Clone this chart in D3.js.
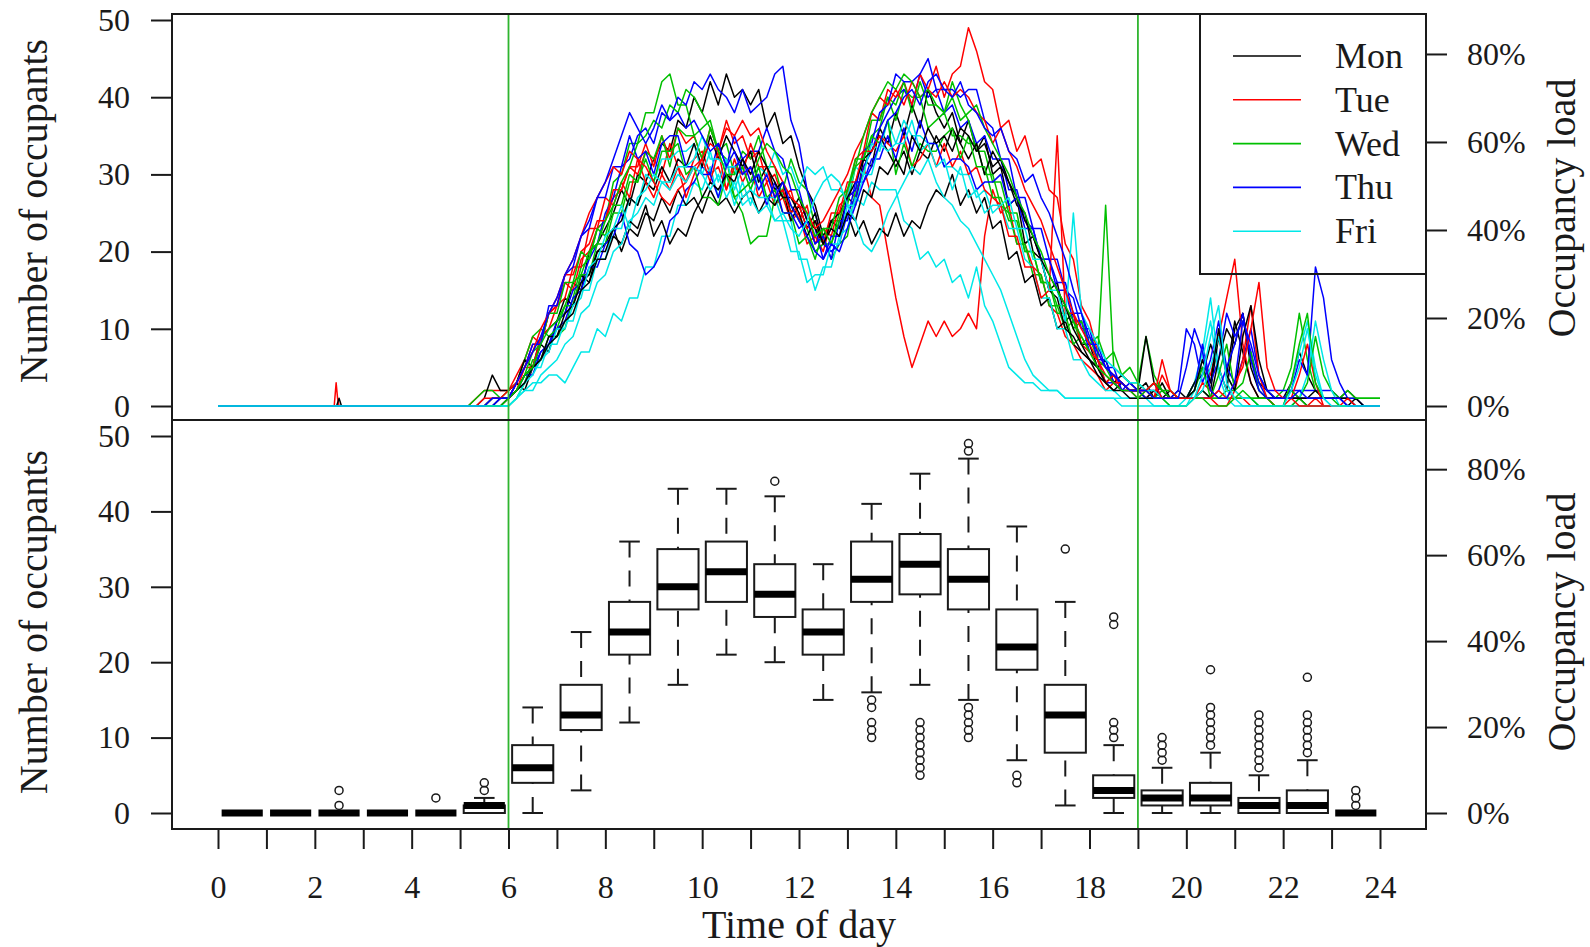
<!DOCTYPE html>
<html>
<head>
<meta charset="utf-8">
<script src="https://cdn.jsdelivr.net/npm/d3@7"></script>
<style>
  html, body { margin: 0; padding: 0; background: #ffffff; }
</style>
</head>
<body>
<svg id="chart" width="1590" height="947" font-family="'Liberation Serif', 'DejaVu Serif', serif"></svg>
<script>
// ---------------------------------------------------------------
// Occupancy traces: one value every 10 minutes from 05:00 to 24:00
// ---------------------------------------------------------------
const weekdays = ["Mon", "Tue", "Wed", "Thu", "Fri"];
const dayColors = ["#000000", "#ff0000", "#00c000", "#0000ff", "#00e8e8"];
const traceStartHour = 5;
const traceStepMinutes = 10;
const capacity = 57; // seats: 100 % occupancy load
const serif = "'Liberation Serif', 'DejaVu Serif', serif";

const mon1 = [
  0,0,0,0,1,1,  1,3,2,5,8,7,  11,12,16,15,20,21,  23,25,28,26,30,29,
  32,34,33,37,36,40,  38,42,39,43,40,41,  39,41,36,38,34,35,  31,28,26,22,24,23,
  27,26,32,31,36,34,  38,35,39,36,41,38,  36,38,34,37,33,35,  30,31,26,27,21,22,
  19,15,16,11,12,8,  8,5,6,3,4,3,  2,3,1,3,1,2,  1,3,4,8,5,2,
  10,12,6,3,2,1,  1,3,7,4,2,1,  1,1,0,1,0,0,  0];
const mon2 = [
  0,0,0,1,4,2,  2,3,6,5,9,10,  11,14,13,17,16,20,  21,23,20,23,22,25,
  24,27,25,28,26,27,  25,28,26,27,25,27,  28,25,27,26,28,24,  26,23,25,21,24,23,
  25,22,24,21,23,22,  25,22,24,23,26,28,  27,30,26,28,25,27,  23,24,19,20,16,17,
  13,14,10,11,8,7,  6,5,3,4,3,2,  2,1,2,1,2,1,  1,3,5,2,9,4,
  11,7,3,1,1,1,  1,2,1,1,2,1,  1,1,2,1,0,0,  0];
const mon3 = [
  0,0,0,0,0,1,  1,2,4,5,6,9,  9,12,13,16,17,20,  20,23,24,27,26,29,
  28,31,29,32,31,34,  31,35,32,35,33,31,  33,29,31,28,29,25,  27,24,23,21,24,25,
  27,29,32,33,35,33,  31,33,30,33,32,35,  33,36,34,32,34,30,  33,31,29,26,25,20,
  19,15,14,10,9,7,  6,4,3,2,3,2,  2,9,3,2,1,1,  1,1,2,1,6,10,
  8,12,5,2,1,1,  1,1,1,0,0,0,  0,0,0,0,0,0,  0];
const mon4 = [
  0,0,0,0,0,0,  1,2,3,5,6,8,  9,11,12,15,16,19,  19,22,21,24,23,26,
  22,24,21,23,22,25,  27,29,28,30,29,32,  30,33,31,29,27,27,  25,22,24,21,23,22,
  25,24,28,27,31,30,  32,30,35,33,36,34,  35,33,36,35,33,34,  31,32,29,27,24,22,
  19,17,15,13,10,8,  6,5,3,2,2,1,  1,1,1,1,1,1,  1,2,6,3,10,4,
  2,9,13,6,2,1,  1,1,1,1,1,1,  1,1,1,0,0,0,  0];
const tue1 = [
  0,0,1,2,2,2,  2,4,6,9,8,12,  13,16,15,19,20,23,  24,27,28,31,30,33,
  32,30,34,31,29,32,  33,30,31,28,32,29,  31,27,29,26,27,24,  25,21,22,20,24,24,
  28,27,31,27,26,20,  14,9,5,8,11,9,  11,9,10,12,10,22,  28,25,26,21,21,18,
  17,13,12,9,8,6,  5,4,2,3,2,2,  2,1,2,1,1,1,  1,2,6,4,9,14,
  19,8,3,1,1,0,  0,0,0,0,1,0,  0,0,0,0,0,0,  0];
const tue2 = [
  0,0,0,0,1,1,  1,3,5,8,8,12,  13,17,17,20,21,24,  24,28,28,31,31,34,
  31,35,32,36,34,35,  32,36,33,37,34,35,  32,33,29,30,27,28,  24,26,21,23,22,26,
  27,32,33,38,37,41,  40,42,39,43,41,44,  40,43,44,49,46,42,  41,36,37,33,35,31,
  32,28,27,21,19,13,  11,7,5,4,3,2,  2,2,1,4,2,1,  1,1,3,2,1,1,
  1,1,0,0,0,0,  0,1,4,8,3,0,  0,0,0,0,0,0,  0];
const tue3 = [
  0,0,0,0,0,0,  1,2,5,5,9,10,  13,14,18,18,23,23,  27,26,29,27,32,29,
  27,30,28,31,27,30,  32,29,33,28,31,30,  34,31,31,27,28,25,  26,23,24,21,25,25,
  29,29,33,33,35,34,  33,35,31,32,34,31,  34,31,33,30,31,28,  27,26,22,22,18,18,
  14,15,35,12,12,8,  7,6,3,4,2,2,  1,2,1,6,2,1,  1,1,1,1,0,0,
  2,6,13,4,1,0,  0,0,0,0,0,0,  0,0,0,0,0,0,  0];
const tue4 = [
  0,0,0,1,1,1,  2,3,5,7,10,12,  14,17,19,22,25,27,  29,31,30,33,32,31,
  29,27,26,28,29,31,  32,34,33,36,35,37,  35,36,33,31,29,27,  26,25,23,24,26,28,
  30,33,35,38,40,39,  41,39,42,40,41,40,  42,40,41,40,38,37,  34,36,33,31,28,26,
  24,21,18,15,12,10,  8,6,4,3,3,2,  2,2,3,1,1,1,  1,1,1,1,2,1,
  3,5,10,16,5,2,  1,1,0,0,0,0,  0,0,1,0,0,0,  0];
const wed1 = [
  0,0,1,2,2,1,  2,3,6,9,10,9,  9,10,14,18,19,23,  24,29,30,34,34,38,
  38,42,43,39,39,35,  36,37,33,32,27,25,  21,22,22,27,28,32,  29,28,23,22,19,21,
  22,28,30,35,36,40,  37,41,40,40,36,37,  38,35,35,34,34,30,  30,26,25,21,21,17,
  17,13,13,10,11,8,  9,6,5,3,3,2,  2,1,1,2,1,1,  1,1,2,1,1,2,
  2,1,1,1,1,1,  2,5,12,6,2,1,  1,1,1,1,1,1,  1];
const wed2 = [
  0,0,0,0,0,0,  0,1,3,6,6,9,  10,13,13,17,17,21,  21,25,25,29,29,33,
  32,35,31,36,35,35,  32,36,33,34,30,33,  32,35,31,31,27,26,  24,23,20,21,21,25,
  26,31,32,37,37,40,  39,42,38,42,39,39,  38,42,39,37,33,33,  29,29,25,25,20,20,
  16,16,12,12,8,9,  7,6,26,5,4,3,  3,9,4,2,2,1,  1,1,1,1,1,1,
  1,1,1,1,1,1,  1,2,1,3,9,4,  2,1,2,1,1,1,  1];
const wed3 = [
  0,0,0,0,1,1,  1,2,4,7,8,12,  12,16,16,20,19,23,  22,26,26,30,29,32,
  29,33,33,34,30,31,  27,27,26,30,30,31,  28,31,27,28,25,25,  21,22,19,23,23,27,
  28,32,32,35,34,37,  30,34,31,34,33,33,  35,36,32,35,31,31,  27,27,24,24,20,20,
  16,16,13,13,10,11,  8,9,6,7,4,5,  3,2,3,2,1,1,  1,2,5,1,4,8,
  2,3,7,2,1,0,  0,0,1,0,0,0,  0,0,0,0,0,0,  0];
const wed4 = [
  0,0,0,0,0,0,  1,2,4,5,8,10,  11,13,16,17,20,21,  24,26,29,31,34,35,
  37,36,39,38,41,40,  38,36,33,30,27,28,  29,32,34,33,31,30,  27,25,22,23,21,24,
  28,31,35,38,40,42,  41,43,42,40,41,39,  38,40,37,38,39,36,  34,32,30,27,25,22,
  20,17,15,13,11,9,  7,5,4,3,2,2,  1,2,1,1,0,0,  0,1,1,0,0,0,
  1,2,1,0,0,0,  0,3,8,12,3,1,  1,0,0,0,0,0,  0];
const thu1 = [
  0,0,0,0,1,1,  1,2,4,5,7,8,  11,12,15,16,19,21,  25,27,31,32,35,36,
  34,38,37,40,39,42,  41,43,41,40,38,41,  38,39,40,43,44,37,  34,28,25,21,20,21,
  25,27,31,33,36,38,  40,41,39,43,40,41,  38,39,36,37,34,35,  32,32,28,28,24,23,
  19,19,15,15,11,11,  7,6,3,3,2,2,  2,2,2,1,1,2,  10,8,3,6,11,5,
  3,6,10,4,2,2,  2,2,2,2,2,2,  2,1,1,1,0,0,  0];
const thu2 = [
  0,0,0,0,0,1,  1,2,4,4,7,8,  10,11,14,15,18,18,  21,22,25,21,20,17,
  18,20,24,25,28,29,  31,30,34,31,35,32,  33,33,36,33,32,28,  28,24,23,19,22,22,
  27,28,33,34,38,39,  43,42,42,43,45,41,  41,41,40,41,41,37,  36,32,32,27,27,23,
  23,19,19,15,14,10,  10,6,6,3,3,2,  2,2,3,1,1,1,  1,2,8,3,6,12,
  9,11,7,3,1,1,  1,1,1,1,1,1,  1,1,0,0,0,0,  0];
const thu3 = [
  0,0,0,0,0,1,  1,3,5,8,8,13,  13,17,18,22,23,27,  27,31,31,35,32,33,
  30,34,35,35,31,31,  30,30,27,31,31,32,  29,30,26,29,25,25,  23,24,21,22,19,24,
  24,29,29,32,32,35,  32,36,33,37,34,34,  31,32,32,31,28,29,  29,30,26,27,23,23,
  19,19,16,16,12,12,  8,8,5,5,2,3,  2,1,1,1,1,1,  1,1,1,1,2,5,
  8,12,6,2,1,1,  1,2,6,4,18,14,  6,3,1,0,0,0,  0];
const thu4 = [
  0,0,0,0,1,1,  1,3,5,7,9,12,  14,17,19,22,24,27,  29,32,35,38,36,34,
  36,39,37,38,36,37,  35,33,34,31,33,30,  31,28,30,27,29,26,  24,22,20,19,21,20,
  23,26,29,31,34,37,  38,40,41,39,42,43,  41,40,42,39,38,36,  35,36,33,32,29,30,
  27,25,22,19,15,12,  9,7,5,4,3,2,  2,2,1,1,1,1,  5,10,7,2,1,1,
  3,11,8,4,2,1,  1,1,2,1,1,1,  1,1,0,0,0,0,  0];
const fri1 = [
  0,0,0,0,0,0,  0,1,2,3,3,4,  4,3,5,7,7,10,  9,12,11,14,14,18,
  18,22,22,26,26,29,  28,31,27,30,26,29,  26,30,27,27,24,24,  19,19,15,18,18,22,
  23,27,26,29,28,28,  28,24,23,19,20,18,  19,16,17,14,18,13,  11,8,5,4,3,3,
  2,2,2,1,1,1,  1,1,1,1,1,1,  1,1,0,0,0,0,  1,3,7,14,5,2,
  1,1,1,0,0,0,  0,3,7,11,5,1,  0,0,0,0,0,0,  0];
const fri2 = [
  0,0,0,0,0,0,  1,2,3,5,5,8,  8,11,11,15,15,19,  19,23,23,27,26,30,
  29,32,32,33,33,34,  30,33,29,32,28,31,  28,31,30,33,30,31,  28,31,30,31,28,28,
  27,31,30,34,33,37,  34,37,35,35,34,34,  31,31,30,30,27,28,  25,26,23,23,19,18,
  14,14,10,10,6,6,  4,3,2,2,1,1,  1,1,1,1,0,0,  0,2,6,11,4,1,
  0,0,0,0,0,0,  0,0,1,4,11,6,  2,0,0,0,0,0,  0];
const fri3 = [
  0,0,0,0,0,0,  0,1,3,4,6,7,  10,10,13,14,18,19,  22,23,26,23,27,28,
  30,29,29,31,31,32,  35,32,32,31,31,27,  28,27,27,24,24,20,  20,16,17,17,21,21,
  26,26,30,30,34,33,  34,34,37,33,34,31,  32,28,31,27,28,25,  26,26,27,23,23,19,
  19,15,15,11,25,12,  10,8,6,5,4,3,  3,2,2,1,1,1,  1,1,2,5,9,4,
  2,1,1,0,0,0,  0,0,0,0,0,0,  0,0,0,0,0,0,  0];
const fri4 = [
  0,0,0,0,0,0,  0,1,2,2,4,5,  6,8,9,12,13,16,  17,20,21,24,25,27,
  26,29,28,30,29,31,  30,28,30,27,29,26,  27,25,26,24,25,23,  22,24,27,29,30,29,
  26,24,21,20,22,25,  27,29,31,30,32,29,  27,26,24,23,21,19,  17,15,12,9,6,4,
  3,2,2,1,1,1,  1,1,1,1,0,0,  0,0,0,0,0,0,  0,1,4,9,13,3,
  1,0,0,0,0,0,  0,2,5,10,4,1,  0,0,0,0,0,0,  0];

// short overnight readings (hour, occupants) before the 05:00 samples
const overnightReadings = {
  mon3: [[0, 0], [2.45, 0], [2.5, 1], [2.55, 0]],
  tue1: [[0, 0], [2.40, 0], [2.44, 3], [2.47, 1], [2.5, 0]]
};

// drawing order: week by week, Monday to Friday
const traces = [
  { day: "Mon", id: "mon1", values: mon1 }, { day: "Tue", id: "tue1", values: tue1 },
  { day: "Wed", id: "wed1", values: wed1 }, { day: "Thu", id: "thu1", values: thu1 },
  { day: "Fri", id: "fri1", values: fri1 },
  { day: "Mon", id: "mon2", values: mon2 }, { day: "Tue", id: "tue2", values: tue2 },
  { day: "Wed", id: "wed2", values: wed2 }, { day: "Thu", id: "thu2", values: thu2 },
  { day: "Fri", id: "fri2", values: fri2 },
  { day: "Mon", id: "mon3", values: mon3 }, { day: "Tue", id: "tue3", values: tue3 },
  { day: "Wed", id: "wed3", values: wed3 }, { day: "Thu", id: "thu3", values: thu3 },
  { day: "Fri", id: "fri3", values: fri3 },
  { day: "Mon", id: "mon4", values: mon4 }, { day: "Tue", id: "tue4", values: tue4 },
  { day: "Wed", id: "wed4", values: wed4 }, { day: "Thu", id: "thu4", values: thu4 },
  { day: "Fri", id: "fri4", values: fri4 }
];

// ---------------------------------------------------------------
// Hourly distribution of occupants (box plot statistics)
// ---------------------------------------------------------------
const boxHours    = [0.5,1.5,2.5,3.5,4.5,5.5,6.5,7.5,8.5,9.5,10.5,11.5,12.5,13.5,14.5,15.5,16.5,17.5,18.5,19.5,20.5,21.5,22.5,23.5];
const whiskerLow  = [0,0,0,0,0,0, 0, 3,12,17,21,20,15,16,17,15, 7, 1,0,0,0,0,0,0];
const boxQ1       = [0,0,0,0,0,0, 4,11,21,27,28,26,21,28,29,27,19, 8,2,1,1,0,0,0];
const boxMedian   = [0,0,0,0,0,1, 6,13,24,30,32,29,24,31,33,31,22,13,3,2,2,1,1,0];
const boxQ3       = [0,0,0,0,0,1, 9,17,28,35,36,33,27,36,37,35,27,17,5,3,4,2,3,0];
const whiskerHigh = [0,0,0,0,0,2,14,24,36,43,43,42,33,41,45,47,38,28,9,6,8,5,7,0];
const outliers = [
  [], [], [1, 3], [], [2], [3, 4], [], [], [], [], [], [44], [],
  [10, 11, 12, 14, 15],
  [5, 6, 7, 8, 9, 10, 11, 12],
  [10, 11, 12, 13, 14, 48, 49],
  [4, 5], [35], [10, 11, 12, 25, 26], [7, 8, 9, 10],
  [9, 10, 11, 12, 13, 14, 19],
  [6, 7, 8, 9, 10, 11, 12, 13],
  [8, 9, 10, 11, 12, 13, 18],
  [1, 2, 3]
];

// axis ticks
const occupantTicks = [0, 10, 20, 30, 40, 50];
const loadTicks = [0, 20, 40, 60, 80];
const hourTicks = d3.range(0, 25);
const workdayBounds = [6, 19];

// ---------------------------------------------------------------
// Layout and scales
// ---------------------------------------------------------------
const svg = d3.select("#chart");
const frame = { left: 172, right: 1426, top: 14, mid: 420, bottom: 829 };
const ink = "#1a1a1a";

const x = d3.scaleLinear().domain([0, 24]).range([218, 1380]);
const yTop = d3.scaleLinear().domain([0, 50]).range([406, 20]);
const yBot = d3.scaleLinear().domain([0, 50]).range([813, 436]);
const loadTop = d3.scaleLinear().domain([0, 100]).range([yTop(0), yTop(capacity)]);
const loadBot = d3.scaleLinear().domain([0, 100]).range([yBot(0), yBot(capacity)]);
const color = d3.scaleOrdinal().domain(weekdays).range(dayColors);

svg.append("defs").append("clipPath").attr("id", "topClip")
  .append("rect")
  .attr("x", frame.left).attr("y", frame.top)
  .attr("width", frame.right - frame.left).attr("height", frame.mid - frame.top);

// ---------------------------------------------------------------
// Top panel: daily traces
// ---------------------------------------------------------------
const traceLine = d3.line().x(d => x(d[0])).y(d => yTop(d[1]));
const tracesG = svg.append("g").attr("clip-path", "url(#topClip)");
traces.forEach(tr => {
  const pts = (overnightReadings[tr.id] || [[0, 0]]).slice();
  tr.values.forEach((v, i) => pts.push([traceStartHour + i * traceStepMinutes / 60, v]));
  tracesG.append("path")
    .datum(pts)
    .attr("d", traceLine)
    .attr("fill", "none")
    .attr("stroke", color(tr.day))
    .attr("stroke-width", 1.5)
    .attr("stroke-linejoin", "round");
});

// ---------------------------------------------------------------
// Bottom panel: hourly box plots
// ---------------------------------------------------------------
const boxStats = boxHours.map((h, i) => ({
  hour: h, lo: whiskerLow[i], q1: boxQ1[i], med: boxMedian[i],
  q3: boxQ3[i], hi: whiskerHigh[i], out: outliers[i]
}));
const boxHalf = (x(0.85) - x(0)) / 2;
const stapleHalf = boxHalf / 2;

const boxes = svg.append("g").selectAll("g.box").data(boxStats).join("g").attr("class", "box");
// whiskers (dashed), drawn from the whisker end towards the box
boxes.append("line")
  .attr("x1", d => x(d.hour)).attr("x2", d => x(d.hour))
  .attr("y1", d => yBot(d.lo)).attr("y2", d => yBot(d.q1))
  .attr("stroke", ink).attr("stroke-width", 2).attr("stroke-dasharray", "16,13");
boxes.append("line")
  .attr("x1", d => x(d.hour)).attr("x2", d => x(d.hour))
  .attr("y1", d => yBot(d.hi)).attr("y2", d => yBot(d.q3))
  .attr("stroke", ink).attr("stroke-width", 2).attr("stroke-dasharray", "16,13");
// staples
boxes.selectAll("line.staple").data(d => [[d.hour, d.lo], [d.hour, d.hi]]).join("line")
  .attr("class", "staple")
  .attr("x1", d => x(d[0]) - stapleHalf).attr("x2", d => x(d[0]) + stapleHalf)
  .attr("y1", d => yBot(d[1])).attr("y2", d => yBot(d[1]))
  .attr("stroke", ink).attr("stroke-width", 2);
// boxes
boxes.append("rect")
  .attr("x", d => x(d.hour) - boxHalf).attr("width", 2 * boxHalf)
  .attr("y", d => yBot(d.q3)).attr("height", d => yBot(d.q1) - yBot(d.q3))
  .attr("fill", "none").attr("stroke", ink).attr("stroke-width", 2);
// medians
boxes.append("line")
  .attr("x1", d => x(d.hour) - boxHalf).attr("x2", d => x(d.hour) + boxHalf)
  .attr("y1", d => yBot(d.med)).attr("y2", d => yBot(d.med))
  .attr("stroke", "#000").attr("stroke-width", 7);
// outliers
boxes.selectAll("circle").data(d => d.out.map(v => [d.hour, v])).join("circle")
  .attr("cx", d => x(d[0])).attr("cy", d => yBot(d[1])).attr("r", 4)
  .attr("fill", "none").attr("stroke", ink).attr("stroke-width", 1.5);

// ---------------------------------------------------------------
// Start / end of the working day
// ---------------------------------------------------------------
svg.append("g").selectAll("line").data(workdayBounds).join("line")
  .attr("x1", d => x(d)).attr("x2", d => x(d))
  .attr("y1", frame.top).attr("y2", frame.bottom)
  .attr("stroke", "#2fb52f").attr("stroke-width", 1.8);

// frames
svg.append("rect").attr("x", frame.left).attr("y", frame.top)
  .attr("width", frame.right - frame.left).attr("height", frame.mid - frame.top)
  .attr("fill", "none").attr("stroke", ink).attr("stroke-width", 2);
svg.append("rect").attr("x", frame.left).attr("y", frame.mid)
  .attr("width", frame.right - frame.left).attr("height", frame.bottom - frame.mid)
  .attr("fill", "none").attr("stroke", ink).attr("stroke-width", 2);

// ---------------------------------------------------------------
// Axes
// ---------------------------------------------------------------
function styleAxis(g, size) {
  g.attr("font-family", serif).attr("font-size", null);
  g.select(".domain").remove();
  g.selectAll(".tick line").attr("stroke", ink).attr("stroke-width", 2);
  g.selectAll(".tick text")
    .style("font-family", serif).style("font-size", size + "px").attr("fill", ink);
}
const tickFont = 32;
svg.append("g").attr("transform", `translate(${frame.left},0)`)
  .call(d3.axisLeft(yTop).tickValues(occupantTicks).tickSize(21).tickPadding(21))
  .call(g => styleAxis(g, tickFont));
svg.append("g").attr("transform", `translate(${frame.left},0)`)
  .call(d3.axisLeft(yBot).tickValues(occupantTicks).tickSize(21).tickPadding(21))
  .call(g => styleAxis(g, tickFont));
svg.append("g").attr("transform", `translate(${frame.right},0)`)
  .call(d3.axisRight(loadTop).tickValues(loadTicks).tickFormat(d => d + "%").tickSize(21).tickPadding(20))
  .call(g => styleAxis(g, tickFont));
svg.append("g").attr("transform", `translate(${frame.right},0)`)
  .call(d3.axisRight(loadBot).tickValues(loadTicks).tickFormat(d => d + "%").tickSize(21).tickPadding(20))
  .call(g => styleAxis(g, tickFont));
svg.append("g").attr("transform", `translate(0,${frame.bottom})`)
  .call(d3.axisBottom(x).tickValues(hourTicks).tickFormat(d => d % 2 === 0 ? d : "").tickSize(20).tickPadding(26))
  .call(g => styleAxis(g, tickFont));

// axis titles
const titleSize = 40;
svg.append("text").attr("x", (frame.left + frame.right) / 2).attr("y", 938)
  .attr("text-anchor", "middle").attr("fill", ink)
  .style("font-family", serif).style("font-size", titleSize + "px").text("Time of day");
[[211, "Number of occupants", 47], [622, "Number of occupants", 47],
 [208, "Occupancy load", 1575], [622, "Occupancy load", 1575]].forEach(([cy, label, bx]) => {
  svg.append("text")
    .attr("transform", `translate(${bx},${cy}) rotate(-90)`)
    .attr("text-anchor", "middle").attr("fill", ink)
    .style("font-family", serif).style("font-size", titleSize + "px").text(label);
});

// ---------------------------------------------------------------
// Legend
// ---------------------------------------------------------------
const legend = svg.append("g");
legend.append("rect").attr("x", 1200).attr("y", frame.top)
  .attr("width", frame.right - 1200).attr("height", 274 - frame.top)
  .attr("fill", "none").attr("stroke", ink).attr("stroke-width", 2);
const legendRows = legend.selectAll("g.row").data(weekdays).join("g")
  .attr("class", "row")
  .attr("transform", (d, i) => `translate(0,${56 + i * 43.8})`);
legendRows.append("line").attr("x1", 1233).attr("x2", 1301)
  .attr("stroke", d => color(d)).attr("stroke-width", 1.6);
legendRows.append("text").attr("x", 1335).attr("y", 12).attr("fill", ink)
  .style("font-family", serif).style("font-size", "36px").text(d => d);
</script>
</body>
</html>
